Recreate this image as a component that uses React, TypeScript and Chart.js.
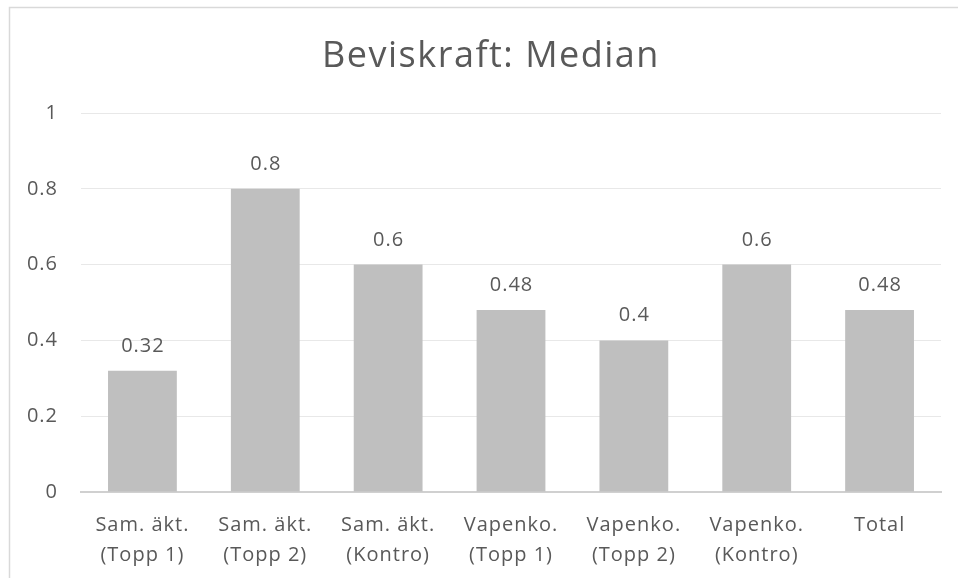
import React, { useEffect, useRef } from "react";
import { Chart, registerables } from "chart.js";

Chart.register(...registerables);

const categories: string[][] = [
  ["Sam. äkt.", "(Topp 1)"],
  ["Sam. äkt.", "(Topp 2)"],
  ["Sam. äkt.", "(Kontro)"],
  ["Vapenko.", "(Topp 1)"],
  ["Vapenko.", "(Topp 2)"],
  ["Vapenko.", "(Kontro)"],
  ["Total"],
];
const medianValues: number[] = [0.32, 0.8, 0.6, 0.48, 0.4, 0.6, 0.48];
const titleText = "Beviskraft: Median";

const FONT = "'Open Sans', sans-serif";
const TEXT = "#595959";

const frameAndLabels = {
  id: "frameAndLabels",
  beforeDraw(chart: any) {
    const ctx = chart.ctx;
    ctx.save();
    ctx.fillStyle = "#ffffff";
    ctx.fillRect(0, 0, chart.width, chart.height);
    ctx.strokeStyle = "#d9d9d9";
    ctx.lineWidth = 1.5;
    ctx.strokeRect(9.5, 7.5, chart.width + 20, chart.height + 20);
    // title
    ctx.font = `36px ${FONT}`;
    (ctx as any).letterSpacing = "1.5px";
    ctx.fillStyle = TEXT;
    ctx.textAlign = "center";
    ctx.textBaseline = "alphabetic";
    ctx.fillText(titleText, 491, 67);
    ctx.restore();
    (ctx as any).letterSpacing = "1px";
  },
  afterDatasetsDraw(chart: any) {
    const ctx = chart.ctx;
    const meta = chart.getDatasetMeta(0);
    const data = chart.data.datasets[0].data as number[];
    ctx.save();
    ctx.font = `20px ${FONT}`;
    (ctx as any).letterSpacing = "1px";
    ctx.fillStyle = TEXT;
    ctx.textAlign = "center";
    ctx.textBaseline = "alphabetic";
    meta.data.forEach((bar: any, i: number) => {
      ctx.fillText(String(data[i]), bar.x + 0.5, bar.y - 19);
    });
    ctx.restore();
  },
};

export default function App() {
  const ref = useRef<HTMLCanvasElement | null>(null);
  useEffect(() => {
    if (!ref.current) return;
    const chart = new Chart(ref.current, {
      type: "bar",
      data: {
        labels: categories,
        datasets: [
          {
            data: medianValues,
            backgroundColor: "#bfbfbf",
            barPercentage: 0.56,
            categoryPercentage: 1,
          },
        ],
      },
      options: {
        animation: false,
        responsive: false,
        devicePixelRatio: 1,
        layout: { padding: { left: 10, right: 17, top: 113, bottom: 0 } },
        plugins: {
          legend: { display: false },
          tooltip: { enabled: false },
          title: { display: false },
        },
        scales: {
          x: {
            grid: { display: false, drawTicks: false },
            border: { display: true, color: "#d0d0d0", width: 2 },
            ticks: {
              color: TEXT,
              font: { family: FONT, size: 20, lineHeight: 1.525 },
              padding: 18,
              maxRotation: 0,
              autoSkip: false,
            },
            afterFit(scale: any) {
              scale.height = 86;
            },
          },
          y: {
            min: 0,
            max: 1,
            grid: { color: "#e8e8e8", lineWidth: 1, drawTicks: false },
            border: { display: false },
            ticks: {
              stepSize: 0.2,
              color: TEXT,
              font: { family: FONT, size: 20 },
              padding: 23,
              callback: (v: any) => String(Math.round(Number(v) * 10) / 10),
            },
            afterFit(scale: any) {
              scale.width = 71;
            },
          },
        },
      },
      plugins: [frameAndLabels],
    });
    return () => chart.destroy();
  }, []);
  return (
    <div style={{ position: "fixed", left: 0, top: 0, width: 958, height: 578 }}>
      <canvas ref={ref} width={958} height={578} style={{ display: "block" }} />
    </div>
  );
}
